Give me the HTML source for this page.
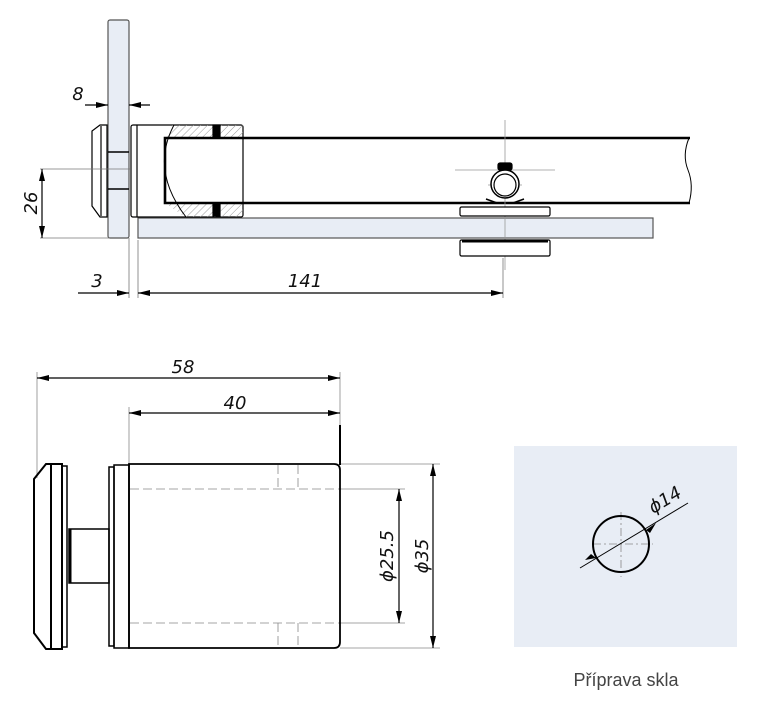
<!DOCTYPE html>
<html><head><meta charset="utf-8"><style>
html,body{margin:0;padding:0;background:#fff}
svg{display:block}
.t{font-family:"DejaVu Sans","Liberation Sans",sans-serif;font-style:italic;font-size:18px;fill:#111}
</style></head><body>
<svg width="765" height="711" viewBox="0 0 765 711" xmlns="http://www.w3.org/2000/svg">
<defs>
<marker id="a" viewBox="0 0 12 6" refX="12" refY="3" markerWidth="12" markerHeight="6" orient="auto-start-reverse" markerUnits="userSpaceOnUse"><path d="M0,0L12,3L0,6z" fill="#000"/></marker>
<pattern id="h" width="5" height="5" patternUnits="userSpaceOnUse" patternTransform="rotate(45)"><line x1="0" y1="0" x2="0" y2="5" stroke="#999" stroke-width="1"/></pattern>
</defs>
<g stroke="#000" fill="none" stroke-width="1.2">
<rect x="108" y="20" width="21" height="218" rx="2" fill="#e8edf5" stroke="#555"/>
<line x1="108" y1="152" x2="129" y2="152" stroke-width="1.5"/>
<line x1="108" y1="189" x2="129" y2="189" stroke-width="1.5"/>
<path d="M107,125 L100,125 L92,131 L92,206 L100,217 L107,217 Z" fill="#fff"/>
<line x1="101" y1="126" x2="101" y2="216"/>
<rect x="138" y="218" width="515" height="20" fill="#e8edf5" stroke="#555"/>
<rect x="131" y="125" width="112" height="92" rx="2" fill="#fff"/>
<line x1="137" y1="125" x2="137" y2="217"/>
<path d="M172,125 L243,125 L243,138 L165,138 Z" fill="url(#h)" stroke="none"/>
<path d="M165,203 L243,203 L243,217 L185,217 Z" fill="url(#h)" stroke="none"/>
<path d="M174,125 Q150,170 186,217" stroke-width="1"/>
<rect x="213" y="125" width="7" height="12" fill="#000"/>
<rect x="213" y="204" width="7" height="12" fill="#000"/>
<path d="M690,138 L165,138 L165,203 L690,203" stroke-width="2.6"/>
<path d="M689,138 Q682,155 688,170 Q694,185 689,203" stroke-width="1"/>
<g stroke="#999" stroke-width="0.8"><line x1="505" y1="120" x2="505" y2="270"/><line x1="455" y1="170" x2="555" y2="170"/><line x1="488" y1="185" x2="522" y2="185" stroke-dasharray="5 3"/></g>
<rect x="498" y="163" width="14" height="7" rx="2" fill="#000"/>
<circle cx="505" cy="184" r="14" fill="#fff" stroke-width="1.5"/>
<circle cx="505" cy="185" r="11"/>
<path d="M486,199 L497,203 M524,199 L513,203" stroke-width="1.5"/>
<rect x="460" y="207" width="90" height="9" rx="1.5" fill="#fff"/>
<rect x="460" y="240" width="90" height="16" rx="1.5" fill="#fff"/>
<line x1="462" y1="241" x2="548" y2="241" stroke-width="3"/>
<g stroke="#777" stroke-width="0.8">
<line x1="40" y1="169" x2="130" y2="169"/><line x1="40" y1="238" x2="110" y2="238"/>
<line x1="129" y1="238" x2="129" y2="298"/><line x1="138" y1="240" x2="138" y2="298"/>
<line x1="503" y1="258" x2="503" y2="298"/>
</g>
<line x1="85" y1="105" x2="108" y2="105" marker-end="url(#a)"/>
<line x1="150" y1="105" x2="129" y2="105" marker-end="url(#a)"/>
<line x1="42" y1="169" x2="42" y2="238" marker-start="url(#a)" marker-end="url(#a)"/>
<line x1="78" y1="293" x2="129" y2="293" marker-end="url(#a)"/>
<line x1="138" y1="293" x2="503" y2="293" marker-start="url(#a)" marker-end="url(#a)"/>
<g stroke="#888" stroke-width="0.8">
<line x1="37" y1="372" x2="37" y2="478"/><line x1="340" y1="372" x2="340" y2="425"/>
<line x1="129" y1="407" x2="129" y2="465"/>
<line x1="340" y1="464" x2="440" y2="464"/><line x1="340" y1="648" x2="440" y2="648"/>
<line x1="340" y1="489" x2="405" y2="489"/><line x1="340" y1="623" x2="405" y2="623"/>
<g stroke-dasharray="9 4"><line x1="130" y1="489" x2="340" y2="489"/><line x1="130" y1="623" x2="340" y2="623"/>
<line x1="278" y1="465" x2="278" y2="489"/><line x1="298" y1="465" x2="298" y2="489"/>
<line x1="278" y1="623" x2="278" y2="648"/><line x1="298" y1="623" x2="298" y2="648"/></g>
</g>
<line x1="37" y1="378" x2="340" y2="378" marker-start="url(#a)" marker-end="url(#a)"/>
<line x1="129" y1="413" x2="340" y2="413" marker-start="url(#a)" marker-end="url(#a)"/>
<line x1="340" y1="425" x2="340" y2="465" stroke-width="2"/>
<line x1="399" y1="489" x2="399" y2="623" marker-start="url(#a)" marker-end="url(#a)"/>
<line x1="433" y1="464" x2="433" y2="648" marker-start="url(#a)" marker-end="url(#a)"/>
<path d="M129,464 L334,464 Q340,464 340,470 L340,642 Q340,648 334,648 L129,648 Z" stroke-width="1.8"/>
<rect x="114" y="465" width="15" height="183" stroke-width="1.5"/>
<rect x="109" y="467" width="5" height="179" stroke-width="1.5"/>
<rect x="69" y="529" width="40" height="54" stroke-width="1.5"/>
<line x1="70" y1="529" x2="70" y2="583" stroke-width="3"/>
<path d="M51,464 L46,464 L34,479 L34,633 L46,649 L51,649 Z" stroke-width="2"/>
<rect x="51" y="464" width="11" height="185" stroke-width="2"/>
<rect x="62" y="466" width="5" height="181" stroke-width="1.5"/>
</g>
<rect x="514" y="446" width="223" height="201" fill="#e8edf5"/>
<g stroke="#000" fill="none">
<g stroke="#888" stroke-width="0.8" stroke-dasharray="8 3 2 3"><line x1="621" y1="512" x2="621" y2="577"/><line x1="593" y1="544" x2="653" y2="544"/></g>
<circle cx="621" cy="544" r="28" fill="none" stroke-width="2"/>
<line x1="580" y1="568" x2="688" y2="503" stroke-width="1"/>
<path d="M596,558 L585,560 L591,554 Z M646,530 L656,523 L650,533 Z" fill="#000" stroke="none"/>
</g>
<g class="t">
<text x="78" y="100" text-anchor="middle">8</text>
<text x="97" y="287" text-anchor="middle">3</text>
<text x="305" y="287" text-anchor="middle">141</text>
<text x="183" y="373" text-anchor="middle">58</text>
<text x="235" y="409" text-anchor="middle">40</text>
<text transform="translate(37,203) rotate(-90)" text-anchor="middle">26</text>
<text transform="translate(393,556) rotate(-90)" text-anchor="middle">ϕ25.5</text>
<text transform="translate(428,556) rotate(-90)" text-anchor="middle">ϕ35</text>
<text transform="translate(668,505) rotate(-31)" text-anchor="middle">ϕ14</text>
</g>
<text x="626" y="686" text-anchor="middle" font-family="Liberation Sans,sans-serif" font-size="18" fill="#444">Příprava skla</text>
</svg>
</body></html>
